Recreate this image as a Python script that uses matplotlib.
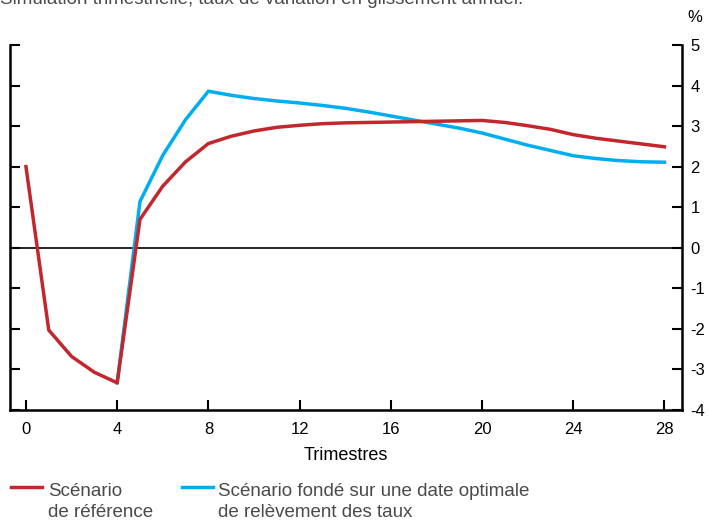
import matplotlib
matplotlib.use("Agg")
import matplotlib.pyplot as plt
from matplotlib.lines import Line2D

plt.rcParams['font.family'] = ['Liberation Sans', 'DejaVu Sans']
plt.rcParams['axes.unicode_minus'] = False

trimestres = list(range(29))
reference = [2.0, -2.03, -2.68, -3.07, -3.33, 0.7, 1.52, 2.12, 2.57, 2.75, 2.88, 2.97,
             3.02, 3.06, 3.08, 3.09, 3.10, 3.11, 3.12, 3.13, 3.14, 3.09, 3.01, 2.92,
             2.79, 2.70, 2.63, 2.56, 2.49]
optimal_x = list(range(4, 29))
optimal = [-3.33, 1.14, 2.28, 3.16, 3.86, 3.76, 3.68, 3.62, 3.57, 3.51, 3.44, 3.35,
           3.25, 3.15, 3.05, 2.95, 2.83, 2.68, 2.53, 2.40, 2.27, 2.20, 2.15, 2.12, 2.11]
x_ticks = [0, 4, 8, 12, 16, 20, 24, 28]
y_ticks = [-4, -3, -2, -1, 0, 1, 2, 3, 4, 5]

RED = "#C1272D"
BLUE = "#00AEEF"
GREY = "#4a4a4a"

fig = plt.figure(figsize=(7.09, 5.22), dpi=100)
ax = fig.add_axes([10 / 709, 1 - 410 / 522, 672 / 709, 365 / 522])

ax.axhline(0, color="black", lw=1.2, zorder=1)
ax.plot(optimal_x, optimal, color=BLUE, lw=2.5, zorder=2)
ax.plot(trimestres, reference, color=RED, lw=2.5, zorder=3)

ax.set_xlim(-0.7, 28.77)
ax.set_ylim(-4, 5)
ax.set_xticks(x_ticks)
ax.set_yticks(y_ticks)
ax.spines['top'].set_visible(False)
for s in ['left', 'right', 'bottom']:
    ax.spines[s].set_linewidth(1.8)
ax.tick_params(axis='both', direction='in', length=7, width=1.5, labelsize=12)
ax.tick_params(axis='y', left=True, right=True, labelleft=False, labelright=True, pad=6)
ax.tick_params(axis='x', pad=9)
ax.set_xlabel("Trimestres", fontsize=13, labelpad=7)

# title cut at the top edge, as in the source
fig.text(0.0, 1 - 4.5 / 522, "Simulation trimestrielle, taux de variation en glissement annuel.",
         fontsize=13.5, color=GREY, va="baseline", ha="left")
fig.text(695 / 709, 1 - 17 / 522, "%", fontsize=12, ha="center", va="center")

# legend
fig.add_artist(Line2D([11 / 709, 42 / 709], [1 - 487 / 522] * 2, color=RED, lw=2.5))
fig.add_artist(Line2D([182 / 709, 213 / 709], [1 - 487 / 522] * 2, color=BLUE, lw=2.5))
legend_lines = [(48, "Scénario", "de référence"),
                (218, "Scénario fondé sur une date optimale", "de relèvement des taux")]
for x0, l1, l2 in legend_lines:
    fig.text(x0 / 709, 1 - 496 / 522, l1, fontsize=13.5, color=GREY, va="baseline", ha="left")
    fig.text(x0 / 709, 1 - 517 / 522, l2, fontsize=13.5, color=GREY, va="baseline", ha="left")

fig.savefig("out.png", dpi=100)
